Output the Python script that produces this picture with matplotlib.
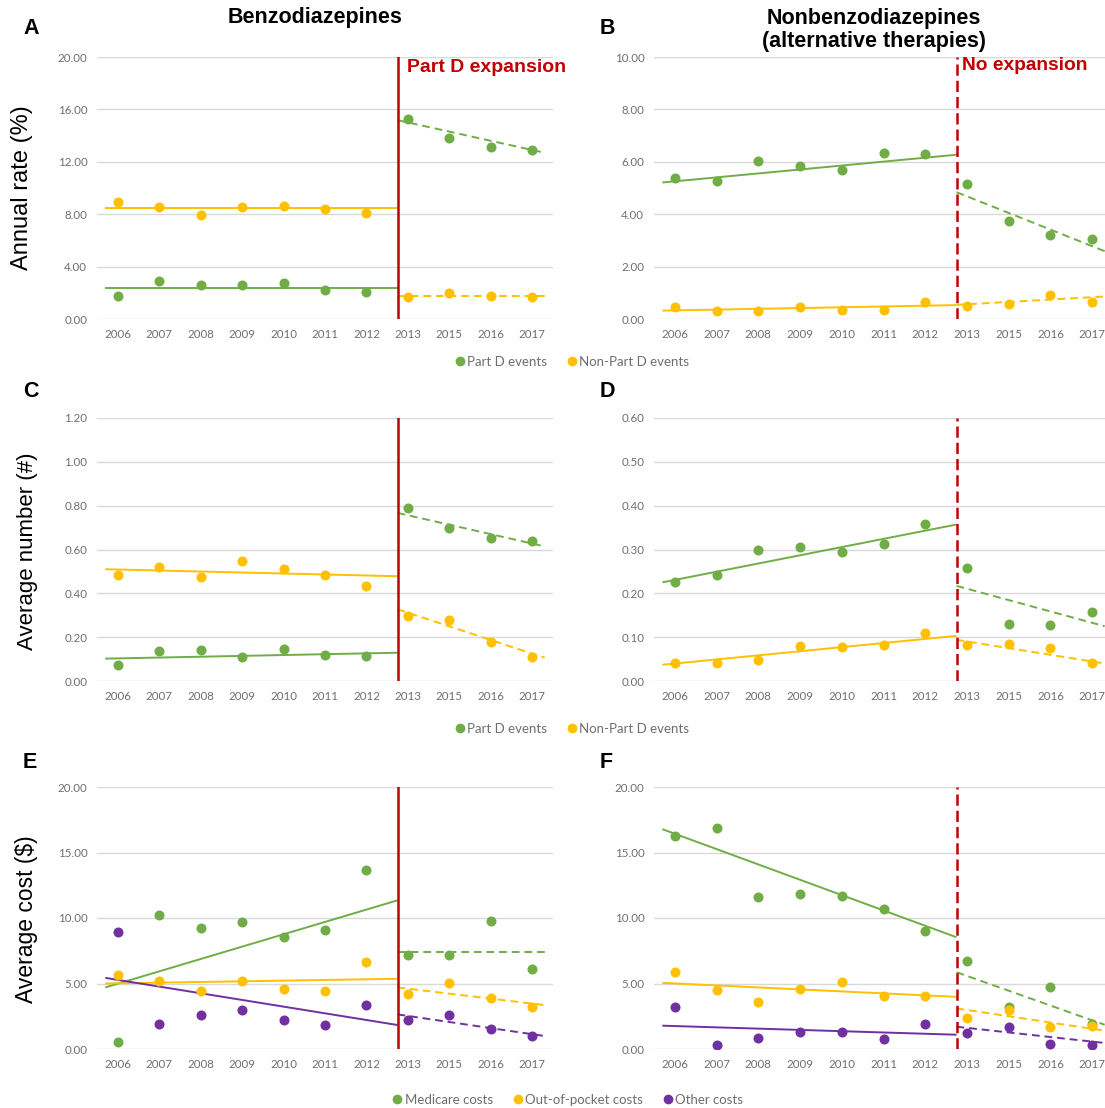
import numpy as np
import matplotlib.pyplot as plt
from matplotlib.lines import Line2D

years = ["2006", "2007", "2008", "2009", "2010", "2011", "2012", "2013", "2015", "2016", "2017"]

# A: benzodiazepines, annual rate (%)
a_partd = [1.73, 2.92, 2.61, 2.56, 2.77, 2.18, 2.08, 15.25, 13.83, 13.15, 12.92]
a_nonpartd = [8.91, 8.58, 7.94, 8.53, 8.63, 8.43, 8.07, 1.65, 1.98, 1.73, 1.68]
# trend lines: pre start, pre end, post start, post end
a_partd_trend = [2.39, 2.39, 15.18, 12.69]
a_nonpartd_trend = [8.45, 8.45, 1.73, 1.73]

# B: nonbenzodiazepines, annual rate (%)
b_partd = [5.39, 5.25, 6.02, 5.83, 5.68, 6.34, 6.29, 5.15, 3.75, 3.19, 3.06]
b_nonpartd = [0.44, 0.32, 0.32, 0.44, 0.35, 0.34, 0.64, 0.49, 0.57, 0.91, 0.64]
b_partd_trend = [5.21, 6.27, 4.84, 2.59]
b_nonpartd_trend = [0.32, 0.53, 0.54, 0.86]

# C: benzodiazepines, average number
c_partd = [0.071, 0.135, 0.140, 0.111, 0.146, 0.117, 0.114, 0.789, 0.700, 0.652, 0.639]
c_nonpartd = [0.482, 0.520, 0.475, 0.548, 0.510, 0.485, 0.433, 0.295, 0.280, 0.178, 0.108]
c_partd_trend = [0.102, 0.129, 0.767, 0.614]
c_nonpartd_trend = [0.510, 0.478, 0.327, 0.106]

# D: nonbenzodiazepines, average number
d_partd = [0.225, 0.241, 0.298, 0.306, 0.294, 0.313, 0.358, 0.258, 0.129, 0.127, 0.157]
d_nonpartd = [0.042, 0.040, 0.047, 0.079, 0.078, 0.082, 0.110, 0.082, 0.084, 0.075, 0.040]
d_partd_trend = [0.225, 0.357, 0.217, 0.125]
d_nonpartd_trend = [0.037, 0.103, 0.094, 0.040]

# E: benzodiazepines, average cost ($)
e_medicare = [0.53, 10.20, 9.26, 9.67, 8.58, 9.11, 13.65, 7.18, 7.18, 9.75, 6.09]
e_oop = [5.66, 5.20, 4.42, 5.20, 4.59, 4.39, 6.62, 4.19, 5.03, 3.86, 3.17]
e_other = [8.93, 1.93, 2.56, 2.97, 2.23, 1.85, 3.38, 2.23, 2.59, 1.55, 1.02]
e_medicare_trend = [4.70, 11.35, 7.39, 7.39]
e_oop_trend = [5.00, 5.36, 4.70, 3.35]
e_other_trend = [5.43, 1.83, 2.64, 0.99]

# F: nonbenzodiazepines, average cost ($)
f_medicare = [16.29, 16.88, 11.60, 11.80, 11.65, 10.68, 9.04, 6.70, 3.17, 4.72, 1.93]
f_oop = [5.84, 4.54, 3.60, 4.59, 5.08, 4.01, 4.06, 2.39, 2.94, 1.68, 1.73]
f_other = [3.17, 0.30, 0.86, 1.27, 1.27, 0.79, 1.90, 1.22, 1.70, 0.38, 0.28]
f_medicare_trend = [16.78, 8.53, 5.86, 1.85]
f_oop_trend = [5.05, 3.98, 3.10, 1.40]
f_other_trend = [1.78, 1.09, 1.70, 0.46]

GREEN = "#70AD47"
YELLOW = "#FFC000"
PURPLE = "#7030A0"
RED = "#C00000"
GRAY = "#6E6E6E"

W, H = 1105, 1108
fig = plt.figure(figsize=(W / 100, H / 100), dpi=100)


def rect(x0, x1, ytop, ybot):
    return [x0 / W, 1 - ybot / H, (x1 - x0) / W, (ybot - ytop) / H]


X0, BRK, X1 = -0.3, 6.75, 10.3


def panel(r, series, ymax, step, dashed_break, xright=10.5):
    ax = fig.add_axes(r)
    x = np.arange(len(years))
    for vals, trend, col in series:
        ax.plot([X0, BRK], trend[:2], color=col, lw=1.4, solid_capstyle="butt", zorder=2)
        ax.plot([BRK, X1], trend[2:], color=col, lw=1.4, dashes=(4, 2.5), zorder=2)
        ax.scatter(x, vals, s=52, color=col, zorder=3, linewidths=0)
    if dashed_break:
        ax.axvline(BRK, color=RED, lw=1.8, dashes=(4.5, 2), zorder=4)
    else:
        ax.axvline(BRK, color=RED, lw=1.8, zorder=4)
    ax.set_xlim(-0.5, xright)
    ax.set_ylim(0, ymax)
    ticks = np.arange(0, ymax + step / 2, step)
    ax.set_yticks(ticks)
    ax.set_yticklabels(["%.2f" % v for v in ticks])
    ax.set_xticks(x)
    ax.set_xticklabels(years)
    ax.grid(axis="y", color="#D9D9D9", lw=1)
    ax.set_axisbelow(True)
    for s in ax.spines.values():
        s.set_visible(False)
    ax.tick_params(length=0, labelsize=8.3, labelcolor=GRAY, pad=7)
    for lab in ax.get_xticklabels() + ax.get_yticklabels():
        lab.set_family("Lato")
    return ax


LX0, LX1 = 97, 553
RX0, RX1 = 654, 1113
rows = [(57, 319), (418, 681), (787, 1049)]

panel(rect(LX0, LX1, *rows[0]), [(a_partd, a_partd_trend, GREEN), (a_nonpartd, a_nonpartd_trend, YELLOW)], 20, 4, False)
panel(rect(RX0, RX1, *rows[0]), [(b_partd, b_partd_trend, GREEN), (b_nonpartd, b_nonpartd_trend, YELLOW)], 10, 2, True)
panel(rect(LX0, LX1, *rows[1]), [(c_partd, c_partd_trend, GREEN), (c_nonpartd, c_nonpartd_trend, YELLOW)], 1.2, 0.2, False)
panel(rect(RX0, RX1, *rows[1]), [(d_partd, d_partd_trend, GREEN), (d_nonpartd, d_nonpartd_trend, YELLOW)], 0.6, 0.1, True)
panel(rect(LX0, LX1, *rows[2]), [(e_medicare, e_medicare_trend, GREEN), (e_oop, e_oop_trend, YELLOW), (e_other, e_other_trend, PURPLE)], 20, 5, False)
panel(rect(RX0, RX1, *rows[2]), [(f_medicare, f_medicare_trend, GREEN), (f_oop, f_oop_trend, YELLOW), (f_other, f_other_trend, PURPLE)], 20, 5, True)

# titles and panel letters
bold = dict(family="Liberation Sans", weight="bold", color="black")
fig.text(315 / W, 1 - 18 / H, "Benzodiazepines", ha="center", va="center", fontsize=15.5, **bold)
fig.text(874 / W, 1 - 30 / H, "Nonbenzodiazepines\n(alternative therapies)", ha="center", va="center",
         fontsize=15.5, linespacing=1.08, **bold)
for letter, px, py in [("A", 23, 29), ("B", 600, 28), ("C", 23, 392), ("D", 600, 392), ("E", 23, 763), ("F", 600, 763)]:
    fig.text(px / W, 1 - py / H, letter, ha="left", va="center", fontsize=15.5, **bold)

fig.text(407 / W, 1 - 68 / H, "Part D expansion", ha="left", va="center", fontsize=14,
         family="Liberation Sans", weight="bold", color=RED)
fig.text(962 / W, 1 - 66 / H, "No expansion", ha="left", va="center", fontsize=13.8,
         family="Liberation Sans", weight="bold", color=RED)

# y labels
for txt, px, py, fs in [("Annual rate (%)", 22, 188, 17), ("Average number (#)", 28, 551, 16),
                        ("Average cost ($)", 27, 919, 16.5)]:
    fig.text(px / W, 1 - py / H, txt, rotation=90, ha="center", va="center", fontsize=fs,
             family="Liberation Sans", color="black")


# legends
def dot(c):
    return Line2D([], [], marker="o", ls="", color=c, markersize=7, markeredgewidth=0)


leg_kw = dict(loc="center", frameon=False, handletextpad=0.05, columnspacing=1.4,
              prop={"family": "Lato", "size": 9.5}, labelcolor=GRAY, handlelength=1)
fig.legend([dot(GREEN), dot(YELLOW)], ["Part D events", "Non-Part D events"], ncol=2,
           bbox_to_anchor=(571 / W, 1 - 362 / H), **leg_kw)
fig.legend([dot(GREEN), dot(YELLOW)], ["Part D events", "Non-Part D events"], ncol=2,
           bbox_to_anchor=(571 / W, 1 - 729 / H), **leg_kw)
fig.legend([dot(GREEN), dot(YELLOW), dot(PURPLE)], ["Medicare costs", "Out-of-pocket costs", "Other costs"], ncol=3,
           bbox_to_anchor=(567 / W, 1 - 1100 / H), **leg_kw)

fig.savefig("out.png", dpi=100)
